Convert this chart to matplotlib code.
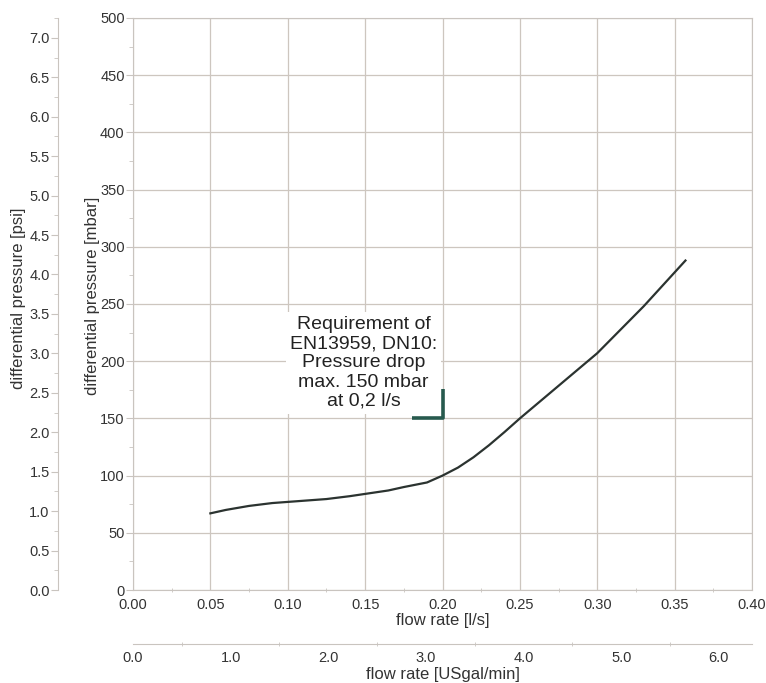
import numpy as np
import matplotlib
matplotlib.use("Agg")
import matplotlib.pyplot as plt
from matplotlib.ticker import MultipleLocator, FixedLocator, FormatStrFormatter

# Kennlinie: Durchfluss [l/s] -> Druckverlust [mbar]
flow_ls = [0.05, 0.06, 0.075, 0.09, 0.10, 0.125, 0.14, 0.15, 0.165, 0.175,
           0.19, 0.20, 0.21, 0.22, 0.23, 0.24, 0.25, 0.275, 0.30, 0.33, 0.357]
dp_mbar = [67, 70, 73.5, 76, 77, 79.5, 82, 84, 87, 90,
           94, 100, 107, 116, 126.5, 138, 150, 178.5, 207, 248, 288]

# Anforderung EN13959 (Winkel bei 0,2 l/s / 150 mbar)
req_x = [0.18, 0.20, 0.20]
req_y = [150, 150, 176]
req_text = "Requirement of\nEN13959, DN10:\nPressure drop\nmax. 150 mbar\nat 0,2 l/s"

psi_ticks = [0.0, 0.5, 1.0, 1.5, 2.0, 2.5, 3.0, 3.5, 4.0, 4.5, 5.0, 5.5, 6.0, 6.5, 7.0]
gpm_ticks = [0.0, 1.0, 2.0, 3.0, 4.0, 5.0, 6.0]

MBAR_PER_PSI = 68.948
LS_PER_USGPM = 0.0630902

GRID = '#cdc6bf'
SPINE = '#c9c4bf'
TXT = '#333333'
TICK_FS = 10.5
LABEL_FS = 12

plt.rcParams['font.family'] = ['Liberation Sans', 'DejaVu Sans']

W, H = 766, 683
fig = plt.figure(figsize=(W / 100, H / 100), dpi=100)
ax = fig.add_axes([133 / W, 93 / H, 619 / W, 572 / H])

ax.plot(flow_ls, dp_mbar, color='#2b3330', lw=1.6, zorder=3)
ax.plot(req_x, req_y, color='#275a4e', lw=2.6, solid_capstyle='butt', zorder=4)
ax.text(0.149, 198.5, req_text, ha='center', va='center', fontsize=14,
        color='#222222', linespacing=1.17,
        bbox=dict(facecolor='white', edgecolor='none', pad=3), zorder=2)

ax.set_xlim(0, 0.40)
ax.set_ylim(0, 500)
ax.xaxis.set_major_locator(MultipleLocator(0.05))
ax.xaxis.set_minor_locator(MultipleLocator(0.025))
ax.yaxis.set_major_locator(MultipleLocator(50))
ax.yaxis.set_minor_locator(MultipleLocator(25))
ax.xaxis.set_major_formatter(FormatStrFormatter('%.2f'))
ax.grid(True, which='major', color=GRID, lw=0.9, zorder=0)
for s in ax.spines.values():
    s.set_color(SPINE)
ax.tick_params(axis='both', which='both', colors=SPINE, labelcolor=TXT, labelsize=TICK_FS)
ax.tick_params(axis='y', which='major', length=5, pad=1)
ax.tick_params(axis='y', which='minor', length=3)
ax.tick_params(axis='x', which='major', length=0, pad=6)
ax.tick_params(axis='x', which='minor', length=3, direction='inout')

# psi-Achse links
psi = ax.secondary_yaxis(-75 / 619, functions=(lambda v: v / MBAR_PER_PSI,
                                               lambda v: v * MBAR_PER_PSI))
psi.yaxis.set_major_locator(FixedLocator(psi_ticks))
psi.yaxis.set_minor_locator(MultipleLocator(0.25))
psi.yaxis.set_major_formatter(FormatStrFormatter('%.1f'))
psi.spines['left'].set_color(SPINE)
psi.tick_params(which='both', colors=SPINE, labelcolor=TXT, labelsize=TICK_FS)
psi.tick_params(which='major', length=5, pad=1)
psi.tick_params(which='minor', length=3)

# USgal/min-Achse unten
gpm = ax.secondary_xaxis(-54 / 572, functions=(lambda v: v / LS_PER_USGPM,
                                               lambda v: v * LS_PER_USGPM))
gpm.xaxis.set_major_locator(FixedLocator(gpm_ticks))
gpm.xaxis.set_minor_locator(MultipleLocator(0.5))
gpm.xaxis.set_major_formatter(FormatStrFormatter('%.1f'))
gpm.spines['bottom'].set_color(SPINE)
gpm.tick_params(which='both', colors=SPINE, labelcolor=TXT, labelsize=TICK_FS)
gpm.tick_params(which='major', length=0, pad=5)
gpm.tick_params(which='minor', length=3, direction='inout')

# Achsbeschriftungen
fig.text(93 / W, 1 - 296 / H, 'differential pressure [mbar]', rotation=90,
         ha='center', va='center', fontsize=LABEL_FS, color=TXT)
fig.text(19 / W, 1 - 298 / H, 'differential pressure [psi]', rotation=90,
         ha='center', va='center', fontsize=LABEL_FS, color=TXT)
fig.text(443 / W, 1 - 620 / H, 'flow rate [l/s]',
         ha='center', va='center', fontsize=LABEL_FS, color=TXT)
fig.text(443 / W, 1 - 674 / H, 'flow rate [USgal/min]',
         ha='center', va='center', fontsize=LABEL_FS, color=TXT)

fig.savefig('out.png', dpi=100)
